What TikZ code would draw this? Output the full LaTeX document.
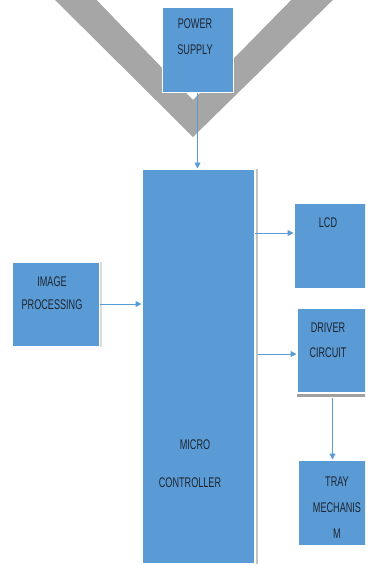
\documentclass[tikz,border=0pt]{standalone}
\usepackage{fontspec}
\setmainfont{Liberation Sans}[FakeStretch=0.65]
\usetikzlibrary{arrows.meta}
\definecolor{boxblue}{HTML}{5B9BD5}
\definecolor{vgrey}{HTML}{A6A6A6}
\definecolor{shadowgrey}{HTML}{C4C4C4}
\definecolor{darkshadow}{HTML}{A0A0A0}
\definecolor{txt}{HTML}{1C2430}
\begin{document}
\begin{tikzpicture}[x=1pt,y=-1pt,
  blk/.style={fill=boxblue, draw=white, line width=1pt, inner sep=0pt},
  lbl/.style={font=\fontsize{14}{26}\selectfont, text=txt, align=center, inner sep=0pt},
  conn/.style={draw=boxblue, line width=1pt, -{Triangle[length=6pt,width=6pt]}}
]
\useasboundingbox (0,0) rectangle (365,565);
\clip (0,0) rectangle (365,565);
% grey V
\fill[vgrey] (45,-10) -- (87,-10) -- (193,100) -- (301,-10) -- (343,-10) -- (193,137) -- cycle;
% boxes
\node[blk, minimum width=71pt, minimum height=85pt] (ps) at (197.5,49.5) {};
\node[blk, minimum width=112pt, minimum height=394pt] (mc) at (198,366) {};
\node[blk, minimum width=87pt, minimum height=84pt] (ip) at (55.5,304) {};
\node[blk, minimum width=74pt, minimum height=85pt] (lcd) at (331,245.5) {};
\node[blk, minimum width=71pt, minimum height=84pt] (drv) at (332.5,350) {};
\node[blk, minimum width=70pt, minimum height=85pt] (tray) at (333,502.5) {};
% shadows
\fill[shadowgrey] ([xshift=1pt]mc.north east) rectangle ([xshift=3.5pt]mc.south east);
\fill[shadowgrey!60] ([xshift=0.5pt]ip.north east) rectangle ([xshift=2pt]ip.south east);
\fill[darkshadow] ([yshift=-1pt]drv.south west) rectangle ([yshift=-4.5pt]drv.south east);
% labels
\node[lbl] (pslbl) at (195,37) {POWER\\SUPPLY};
\node[lbl, font=\fontsize{14}{23}\selectfont] (iplbl) at (52,293.5) {IMAGE\\PROCESSING};
\node[lbl] (lcdlbl) at (328,223) {LCD};
\node[lbl, font=\fontsize{14}{25}\selectfont] (drvlbl) at (328,340.5) {DRIVER\\CIRCUIT};
\node[lbl] (mclbl1) at (195,445) {MICRO};
\node[lbl] (mclbl2) at (190,483) {CONTROLLER};
\node[lbl] (traylbl) at (337,508) {TRAY\\MECHANIS\\M};
% connectors
\draw[conn] (ps.south) -- (ps.south |- mc.north);
\draw[conn] (ip.east) -- (ip.east -| mc.west);
\coordinate (lcdin) at ([yshift=12.5pt]lcd.west);
\draw[conn] (mc.east |- lcdin) -- (lcdin);
\coordinate (drvin) at ([yshift=-4pt]drv.west);
\draw[conn] ([xshift=3pt]mc.east |- drvin) -- (drvin);
\draw[conn] ([yshift=-5pt]drv.south) -- (drv.south |- tray.north);
\end{tikzpicture}
\end{document}
